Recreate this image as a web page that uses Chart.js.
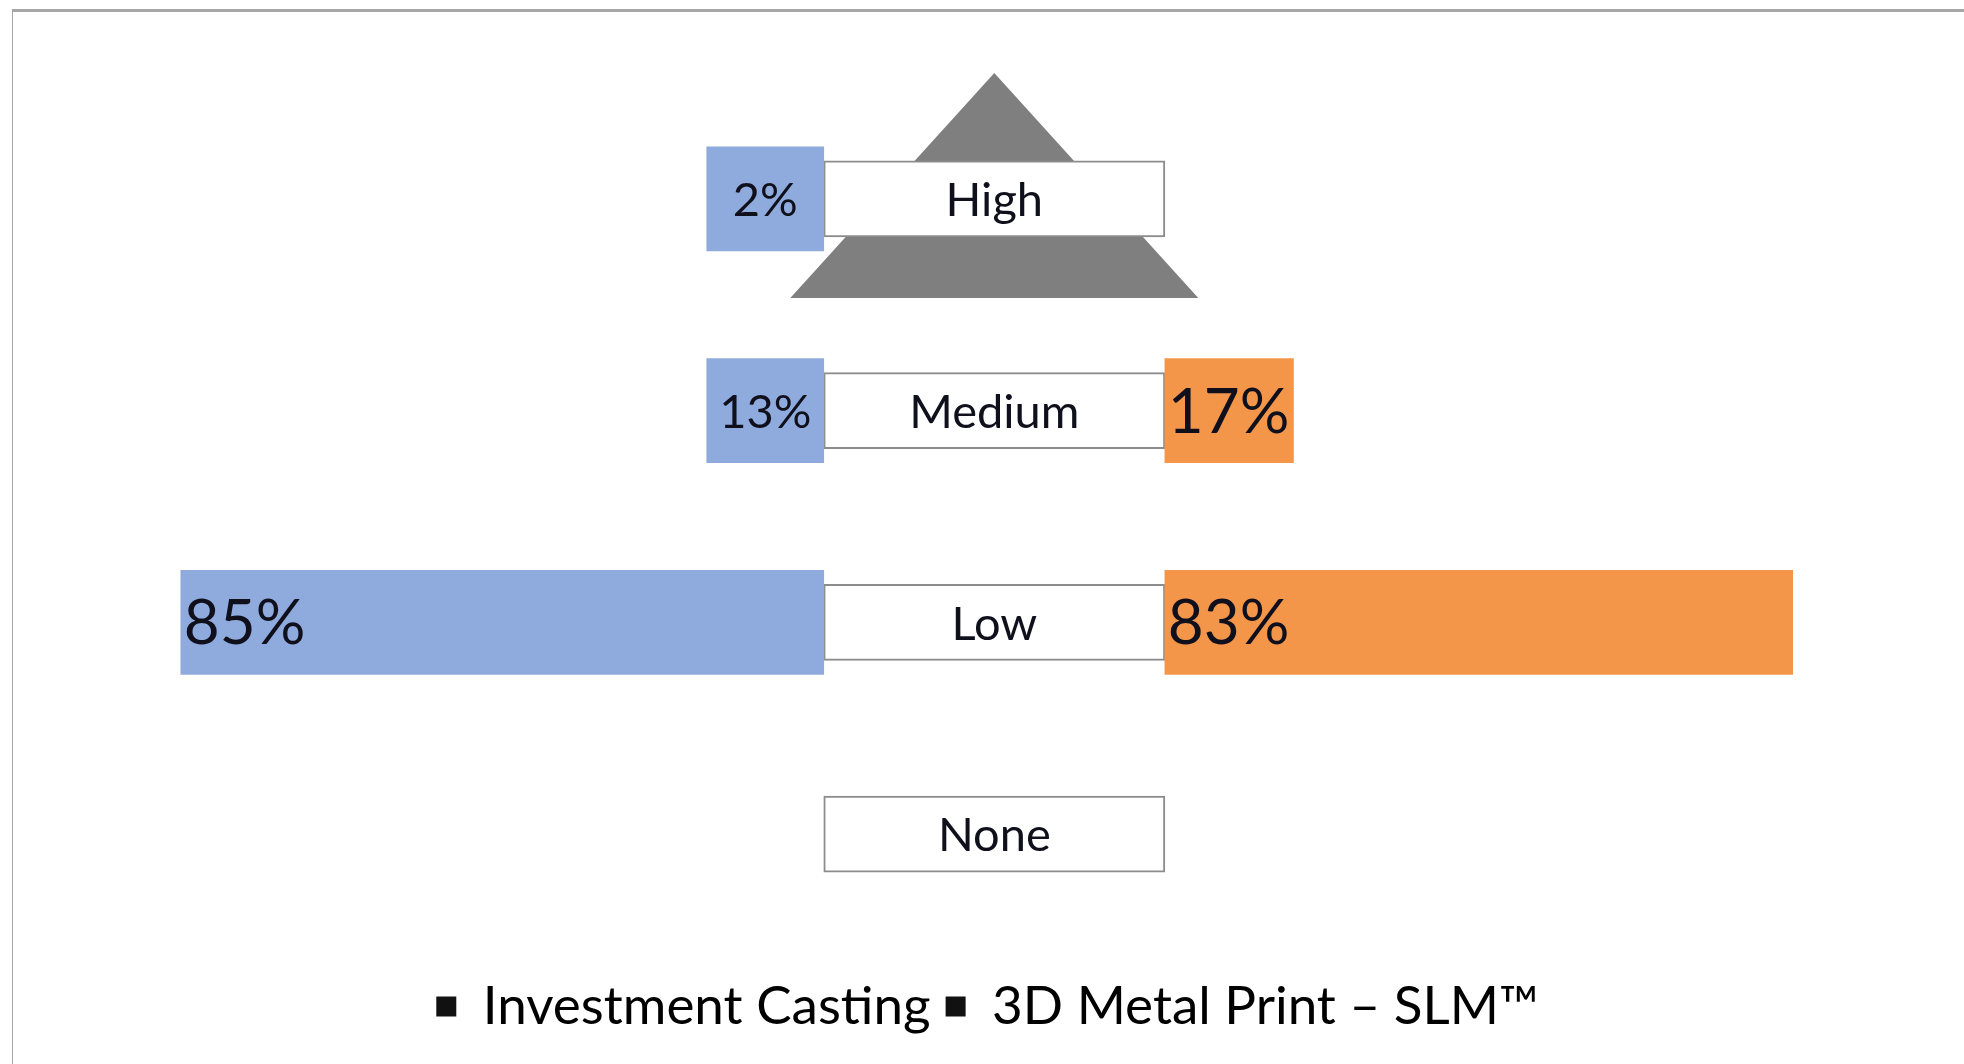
<!DOCTYPE html>
<html>
<head>
<meta charset="utf-8">
<script src="https://cdn.jsdelivr.net/npm/chart.js@4.4.1/dist/chart.umd.min.js"></script>
<style>
  html, body { margin: 0; padding: 0; background: #fff; overflow: hidden; }
  body { width: 1964px; height: 1064px; position: relative; font-family: Lato, sans-serif; }
  #frame { position: absolute; left: 12px; top: 9px; width: 1960px; height: 1070px;
           border-top: 3px solid #a6a6a6; border-left: 1px solid #a6a6a6; }
  #wrap { position: absolute; left: 11px; top: 0; width: 1953px; height: 1064px; }
</style>
</head>
<body>
<div id="frame"></div>
<div id="wrap"><canvas id="pyramid-chart"></canvas></div>
<script>
// Usage pyramid: share of parts per level, casting vs SLM

const categories = ['High', 'Medium', 'Low', 'None'];
const seriesNames = ['Investment Casting', '3D Metal Print – SLM™'];
const castingValues = [2, 13, 85, 0];
const slmValues = [0, 17, 83, 0];

// half width of the centre label box, in % units of the x scale
const labelHalf = 22.55;

function leftBars(values) {
    return values.map(v => v > 0 ? [-labelHalf, -(labelHalf + v)] : null);
}

function rightBars(values) {
    return values.map(v => v > 0 ? [labelHalf, labelHalf + v] : null);
}

const pyramidPlugin = {
    id: 'pyramid',
    beforeDatasetsDraw(chart) {
        const ctx = chart.ctx;
        const x = chart.scales.x.getPixelForValue(0);
        const y = chart.scales.y.getPixelForValue(0);
        ctx.save();
        ctx.fillStyle = '#7f7f7f';
        ctx.beginPath();
        ctx.moveTo(x, y - 126);
        ctx.lineTo(x + 204, y + 99);
        ctx.lineTo(x - 204, y + 99);
        ctx.closePath();
        ctx.fill();
        ctx.restore();
    }
};

const labelPlugin = {
    id: 'barLabels',
    afterDatasetsDraw(chart) {
        const ctx = chart.ctx;
        ctx.save();
        ctx.fillStyle = '#10101c';
        ctx.textBaseline = 'middle';

        // level names in the boxes
        ctx.font = '47px Lato';
        ctx.textAlign = 'center';
        chart.getDatasetMeta(2).data.forEach((bar, i) => {
            ctx.fillText(categories[i], (bar.x + bar.base) / 2, bar.y + 2);
        });

        // percentages on the bars
        [castingValues, slmValues].forEach((values, d) => {
            const meta = chart.getDatasetMeta(d);
            meta.data.forEach((bar, i) => {
                const v = values[i];
                if (!(v > 0)) return;
                const left = Math.min(bar.x, bar.base);
                const right = Math.max(bar.x, bar.base);
                if (v >= 15) {
                    ctx.font = '62px Lato';
                    ctx.textAlign = 'left';
                    ctx.fillText(v + '%', left + 3, bar.y + 2);
                } else {
                    ctx.font = '47px Lato';
                    ctx.textAlign = 'center';
                    ctx.fillText(v + '%', (left + right) / 2, bar.y + 2);
                }
            });
        });
        ctx.restore();
    }
};

const ctx = document.getElementById('pyramid-chart').getContext('2d');

new Chart(ctx, {
    type: 'bar',
    data: {
        labels: categories,
        datasets: [
            {
                label: seriesNames[0],
                data: leftBars(castingValues),
                backgroundColor: '#8faadc',
                barThickness: 104,
                minBarLength: 117,
                grouped: false
            },
            {
                label: seriesNames[1],
                data: rightBars(slmValues),
                backgroundColor: '#f4964a',
                barThickness: 104,
                grouped: false
            },
            {
                label: 'levels',
                data: categories.map(() => [-labelHalf, labelHalf]),
                backgroundColor: '#ffffff',
                borderColor: '#8c8c8c',
                borderWidth: 2,
                borderSkipped: false,
                barThickness: 76,
                grouped: false
            }
        ]
    },
    options: {
        indexAxis: 'y',
        responsive: true,
        maintainAspectRatio: false,
        animation: false,
        layout: { padding: { top: 93, bottom: 21, left: 0, right: 0 } },
        scales: {
            x: {
                min: -130,
                max: 128.2,
                grid: { display: false },
                border: { display: false },
                ticks: { display: false },
                afterFit: scale => { scale.height = 25; }
            },
            y: { display: false }
        },
        plugins: {
            tooltip: { enabled: false },
            legend: {
                position: 'bottom',
                labels: {
                    font: { family: 'Lato', size: 53 },
                    color: '#10101c',
                    boxWidth: 20,
                    boxHeight: 20,
                    padding: 15,
                    generateLabels: () => seriesNames.map((name, i) => ({
                        text: name,
                        fillStyle: '#111111',
                        strokeStyle: '#111111',
                        lineWidth: 0,
                        datasetIndex: i,
                        hidden: false
                    }))
                }
            }
        }
    },
    plugins: [pyramidPlugin, labelPlugin]
});
</script>
</body>
</html>
